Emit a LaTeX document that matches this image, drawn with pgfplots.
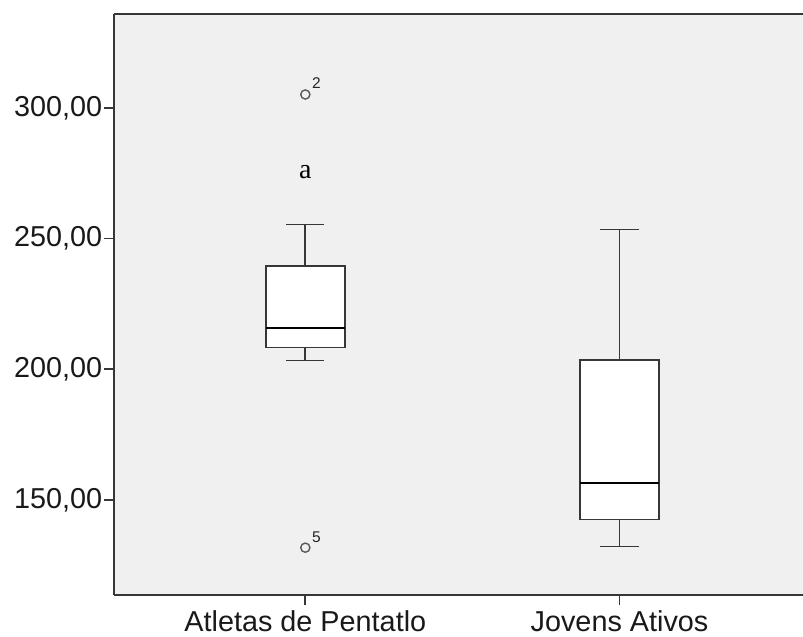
\documentclass[border=0pt]{standalone}
\usepackage{fontspec}
\setmainfont{Liberation Sans}
\newfontfamily\serifa{Liberation Serif}
\usepackage{pgfplots}
\pgfplotsset{compat=1.18}
\definecolor{bgc}{RGB}{240,240,240}
\definecolor{edge}{RGB}{55,55,55}
\begin{document}
\begin{tikzpicture}
\useasboundingbox (-114.3pt,-42pt) rectangle (688.7pt,595pt);
\begin{axis}[
  at={(0,0)}, anchor=south west,
  scale only axis,
  width=688.7pt, height=581.3pt,
  xmin=0.392, xmax=2.584,
  ymin=113.7, ymax=336,
  axis x line*=box, axis y line*=left,
  axis line style={-, draw=edge, line width=1.7pt},
  axis background/.style={fill=bgc},
  xtick={1,2},
  xticklabels={Atletas de Pentatlo, Jovens Ativos},
  ytick={150,200,250,300},
  yticklabels={{150,00},{200,00},{250,00},{300,00}},
  tick align=outside,
  xtick pos=bottom, ytick pos=left,
  major tick length=10pt,
  tick style={draw=edge, line width=1.7pt},
  ticklabel style={font=\fontsize{28.8}{34}\selectfont, text=black!90},
  yticklabel style={inner sep=2pt},
  xticklabel style={inner sep=0pt, yshift=-5.5pt},
  clip=false,
]
% Atletas de Pentatlo
\addplot[draw=edge, line width=1.7pt] coordinates {(1,239.6) (1,255.4)};
\addplot[draw=edge, line width=1.7pt] coordinates {(0.939,255.4) (1.061,255.4)};
\addplot[draw=edge, line width=1.7pt] coordinates {(1,208.3) (1,203.4)};
\addplot[draw=edge, line width=1.7pt] coordinates {(0.939,203.4) (1.061,203.4)};
\addplot[draw=edge, fill=white, line width=1.7pt] coordinates {(0.8743,208.3) (1.1257,208.3) (1.1257,239.6) (0.8743,239.6)} --cycle;
\addplot[draw=black, line width=2.8pt] coordinates {(0.8743,215.8) (1.1257,215.8)};
\addplot[only marks, mark=o, mark size=4.6pt, mark options={draw=black!65, line width=1.4pt}] coordinates {(1,305.1) (1,131.8)};
% Jovens Ativos
\addplot[draw=edge, line width=1.7pt] coordinates {(2,203.6) (2,253.5)};
\addplot[draw=edge, line width=1.7pt] coordinates {(1.939,253.5) (2.061,253.5)};
\addplot[draw=edge, line width=1.7pt] coordinates {(2,142.6) (2,132.3)};
\addplot[draw=edge, line width=1.7pt] coordinates {(1.939,132.3) (2.061,132.3)};
\addplot[draw=edge, fill=white, line width=1.7pt] coordinates {(1.8743,142.6) (2.1257,142.6) (2.1257,203.6) (1.8743,203.6)} --cycle;
\addplot[draw=black, line width=2.8pt] coordinates {(1.8743,156.5) (2.1257,156.5)};
\node[anchor=base west, inner sep=0, xshift=6.5pt, yshift=6pt,
  font=\fontsize{15.5}{17}\selectfont, text=black!85] at (axis cs:1,305.1) {2};
\node[anchor=base west, inner sep=0, xshift=6.5pt, yshift=5pt,
  font=\fontsize{15.5}{17}\selectfont, text=black!85] at (axis cs:1,131.8) {5};
\node[anchor=base, inner sep=0, font=\serifa\fontsize{28}{32}\selectfont]
  at (axis cs:1,273) {a};
\end{axis}
\end{tikzpicture}
\end{document}
